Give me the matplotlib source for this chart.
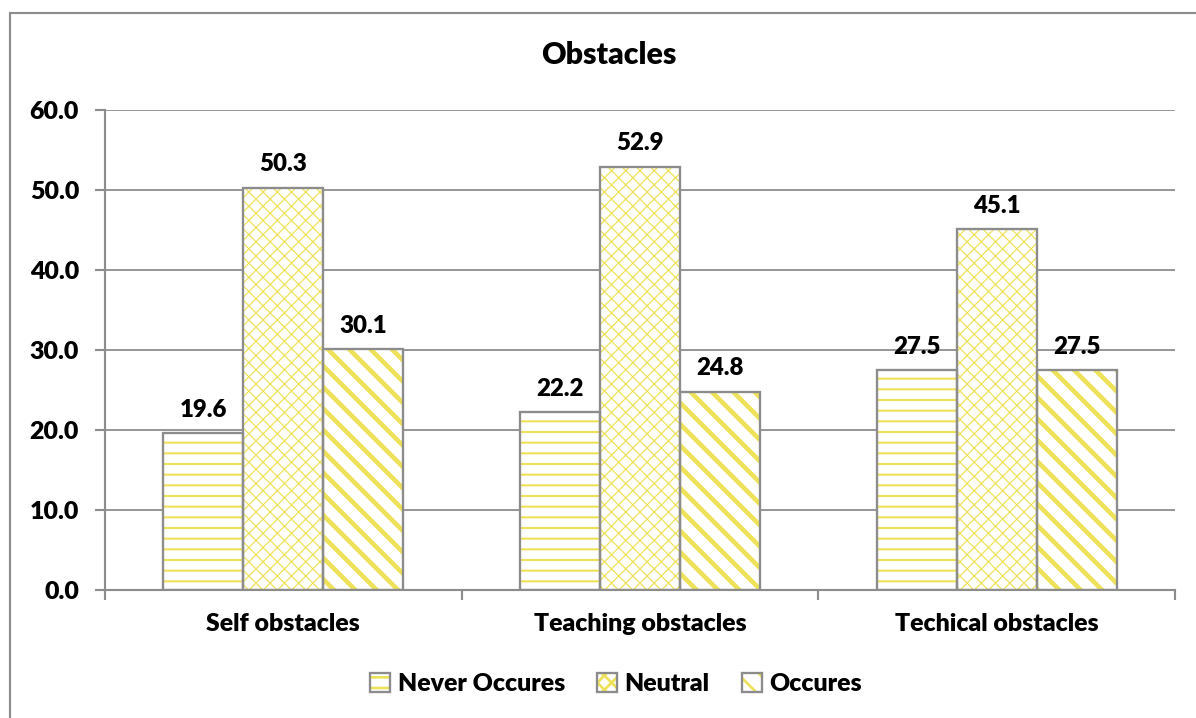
import numpy as np
import matplotlib.pyplot as plt
from matplotlib.patches import Rectangle, Patch
from matplotlib.legend_handler import HandlerTuple

plt.rcParams.update({
    "font.family": ["Lato", "DejaVu Sans"],
    "font.weight": "heavy",
    "font.size": 14,
})

categories = ["Self obstacles", "Teaching obstacles", "Techical obstacles"]
series = ["Never Occures", "Neutral", "Occures"]
never = [19.6, 22.2, 27.5]
neutral = [50.3, 52.9, 45.1]
occures = [30.1, 24.8, 27.5]

yellow = "#EEE25A"
grey = "#8C8C8C"
hatches = ["--", "xxx", "\\\\"]
hatch_lw = [1.2, 0.7, 2.6]

fig = plt.figure(figsize=(1196/128, 718/128), dpi=128)
fig.patches.append(Rectangle((10/1196, -0.1), 1.2, 1.1 - 13/718,
                             transform=fig.transFigure, fill=False,
                             edgecolor=grey, lw=1.2))
ax = fig.add_axes([105/1196, 1 - 590/718, 1070/1196, 480/718])

x = np.arange(len(categories))
w = 0.224
handles = []
for i, (name, vals) in enumerate(zip(series, [never, neutral, occures])):
    pos = x + (i - 1) * w
    plt.rcParams["hatch.linewidth"] = hatch_lw[i]
    hb = ax.bar(pos, vals, w, color="white", edgecolor=yellow, hatch=hatches[i],
                lw=0, zorder=2)
    for p in hb:
        if hasattr(p, "set_hatch_linewidth"):
            p.set_hatch_linewidth(hatch_lw[i])
    ax.bar(pos, vals, w, fill=False, edgecolor=grey, lw=1.3, zorder=3)
    for xp, v in zip(pos, vals):
        ax.annotate(f"{v:.1f}", (xp, v), xytext=(0, 7), textcoords="offset points",
                    ha="center", va="bottom", fontsize=13.5, fontweight="heavy")
    hp = Patch(facecolor="white", edgecolor=yellow, hatch=hatches[i], lw=0)
    op = Patch(fill=False, edgecolor=grey, lw=1.3)
    handles.append((hp, op))

ax.set_ylim(0, 60)
ax.set_xlim(-0.5, 2.5)
ax.set_yticks(np.arange(0, 61, 10))
ax.set_yticklabels([f"{t:.1f}" for t in np.arange(0, 61, 10)])
ax.set_xticks(x)
ax.set_xticklabels(categories)
ax.set_xticks([-0.5, 0.5, 1.5, 2.5], minor=True)
ax.tick_params(axis="x", which="major", length=0, pad=13)
ax.tick_params(axis="x", which="minor", length=5.6, width=1.2, color=grey)
ax.tick_params(axis="y", length=5.6, width=1.2, color=grey, pad=9)
ax.grid(axis="y", color=grey, lw=1.0, zorder=0)
ax.set_axisbelow(True)
for s in ["top", "right"]:
    ax.spines[s].set_visible(False)
for s in ["left", "bottom"]:
    ax.spines[s].set_color(grey)
    ax.spines[s].set_linewidth(1.2)

fig.text(609/1196, 1 - 55/718, "Obstacles", ha="center", va="center",
         fontsize=17, fontweight="heavy")

plt.rcParams["hatch.linewidth"] = 1.5
fig.legend(handles, series, handler_map={tuple: HandlerTuple(ndivide=1)},
           loc="center", bbox_to_anchor=(616/1196, 1 - 684/718), ncol=3,
           frameon=False, handlelength=0.8, handleheight=0.8, handletextpad=0.3,
           columnspacing=1.3, fontsize=14)

fig.savefig("out.png", dpi=128)
